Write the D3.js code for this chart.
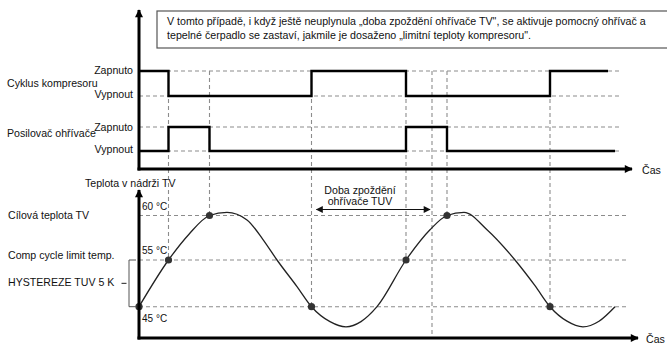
<!DOCTYPE html>
<html><head><meta charset="utf-8">
<script src="https://cdn.jsdelivr.net/npm/d3@7"></script>
<style>
body{margin:0;background:#fff;}
svg{display:block;font-family:"Liberation Sans",Arial,sans-serif;}
</style></head>
<body><svg id="c" width="667" height="345"></svg>
<script>
// ---------- data ----------
const noteLines = [
  "V tomto případě, i když ještě neuplynula „doba zpoždění ohřívače TV\", se aktivuje pomocný ohřívač a",
  "tepelné čerpadlo se zastaví, jakmile je dosaženo „limitní teploty kompresoru\"."
];
const stateLabels = ["Zapnuto", "Vypnout"];
const seriesNames = ["Cyklus kompresoru", "Posilovač ohřívače"];
// compressor state (1 = Zapnuto, 0 = Vypnout) switching times
const compTimes  = [0, 29.5, 172.5, 267, 411, 469];
const compStates = [1, 0, 1, 0, 1, 1];
const heatTimes  = [0, 29.5, 70.5, 267, 308, 476];
const heatStates = [0, 1, 0, 1, 0, 0];
// event markers
const eventTimes = [29.5, 70.5, 172.5, 267, 293, 308, 411];
const eventTemps = [55, 60, 45, 55, null, 60, 45];
// tank temperature curve
const curveTimes = [0, 29.5, 50, 70.5, 88, 108, 124, 138, 158, 172.5, 191, 207, 222, 238, 267, 291, 308, 325, 348, 376, 396, 411, 428, 444, 460, 476];
const curveTemps = [45, 55, 57.9, 60, 60.35, 59.5, 57.3, 55, 49.3, 45, 41.8, 40.7, 41.8, 45, 55, 58.4, 60, 60.35, 58.4, 55, 49.5, 45, 41.9, 40.7, 41.9, 45];
const tempTicks = [60, 55, 45];
const tempTickLabels = ["60 °C", "55 °C", "45 °C"];
const tempNames = ["Cílová teplota TV", "Comp cycle limit temp.", "HYSTEREZE TUV 5 K"];
const axisTitleTop = "Teplota v nádrži TV";
const timeLabel = "Čas";
const delayLabel = ["Doba zpoždění", "ohřívače TUV"];
const delayStart = 177.5, delayEnd = 291;

// ---------- scales ----------
const svg = d3.select("#c");
const x = d3.scaleLinear().domain([0, 500]).range([139, 639]);
const yComp = d3.scaleLinear().domain([0, 1]).range([96, 71]);
const yHeat = d3.scaleLinear().domain([0, 1]).range([151, 127]);
const yT = d3.scaleLinear().domain([45, 55, 60]).range([306.7, 260, 215.5]);
const topAxisY = 169, botAxisY = 338;
const dashCol = "#8c8c8c";
const FS = 10.6;

const defs = svg.append("defs");
defs.append("marker").attr("id","ah").attr("viewBox","0 0 10 10").attr("refX",9).attr("refY",5)
  .attr("markerWidth",10).attr("markerHeight",8).attr("markerUnits","userSpaceOnUse").attr("orient","auto")
  .append("path").attr("d","M0,0 L10,5 L0,10 Z").attr("fill","#000");
defs.append("marker").attr("id","ahs").attr("viewBox","0 0 10 10").attr("refX",9).attr("refY",5)
  .attr("markerWidth",10).attr("markerHeight",7).attr("markerUnits","userSpaceOnUse").attr("orient","auto-start-reverse")
  .append("path").attr("d","M0,0 L10,5 L0,10 Z").attr("fill","#111");

// ---------- note box ----------
svg.append("rect").attr("x",157).attr("y",11).attr("width",520).attr("height",37)
  .attr("fill","#fff").attr("stroke","#555").attr("stroke-width",1.2);
const nt = svg.selectAll("text.note").data(noteLines).join("text").attr("class","note")
  .attr("x",167).attr("y",(d,i)=>25+i*14).attr("font-size",10).attr("fill","#111").text(d=>d);
const w0 = nt.nodes()[0].getComputedTextLength();
nt.attr("font-size",10*479/w0);

// ---------- dashed guides ----------
[yComp(1), yComp(0), yHeat(1), yHeat(0)].forEach(yy=>{
  svg.append("line").attr("x1",x(0)).attr("x2",x(483)).attr("y1",yy).attr("y2",yy)
   .attr("stroke",dashCol).attr("stroke-width",1.1).attr("stroke-dasharray","4,3");
});
tempTicks.forEach(t=>{
  svg.append("line").attr("x1",x(0)).attr("x2",x(489)).attr("y1",yT(t)).attr("y2",yT(t))
   .attr("stroke",dashCol).attr("stroke-width",1.1).attr("stroke-dasharray","4,3");
});
eventTimes.forEach((t,i)=>{
  const y2 = eventTemps[i]==null ? botAxisY : yT(eventTemps[i]);
  svg.append("line").attr("x1",x(t)).attr("x2",x(t)).attr("y1",yComp(1)).attr("y2",y2)
   .attr("stroke",dashCol).attr("stroke-width",1.1).attr("stroke-dasharray","4,3");
});

// ---------- step lines ----------
const step = d3.line().curve(d3.curveStepAfter);
svg.append("path").attr("d", step(compTimes.map((t,i)=>[x(t), yComp(compStates[i])])))
  .attr("fill","none").attr("stroke","#000").attr("stroke-width",2.4);
svg.append("path").attr("d", step(heatTimes.map((t,i)=>[x(t), yHeat(heatStates[i])])))
  .attr("fill","none").attr("stroke","#000").attr("stroke-width",2.4);

// ---------- temperature curve ----------
const line = d3.line().curve(d3.curveMonotoneX);
svg.append("path").attr("d", line(curveTimes.map((t,i)=>[x(t), yT(curveTemps[i])])))
  .attr("fill","none").attr("stroke","#222").attr("stroke-width",1.3);
const dots = eventTimes.map((t,i)=>[t, eventTemps[i]]).filter(d=>d[1]!=null);
dots.unshift([0,45]);
svg.selectAll("circle.d").data(dots).join("circle").attr("class","d")
  .attr("cx",d=>x(d[0])).attr("cy",d=>yT(d[1])).attr("r",3.6).attr("fill","#333");

// ---------- axes ----------
const axW = 3;
svg.append("line").attr("x1",x(0)).attr("x2",x(0)).attr("y1",topAxisY+1.5).attr("y2",10)
  .attr("stroke","#000").attr("stroke-width",axW).attr("marker-end","url(#ah)");
svg.append("line").attr("x1",x(0)-1.5).attr("x2",632).attr("y1",topAxisY).attr("y2",topAxisY)
  .attr("stroke","#000").attr("stroke-width",axW).attr("marker-end","url(#ah)");
svg.append("line").attr("x1",x(0)).attr("x2",x(0)).attr("y1",botAxisY+1.5).attr("y2",190)
  .attr("stroke","#000").attr("stroke-width",axW).attr("marker-end","url(#ah)");
svg.append("line").attr("x1",x(0)-1.5).attr("x2",638).attr("y1",botAxisY).attr("y2",botAxisY)
  .attr("stroke","#000").attr("stroke-width",axW).attr("marker-end","url(#ah)");

// ---------- labels ----------
const lab = (t,xx,yy,anchor="start",size=FS)=>svg.append("text").attr("x",xx).attr("y",yy)
   .attr("text-anchor",anchor).attr("font-size",size).attr("fill","#111").text(t);
lab(stateLabels[0],133,yComp(1)+3,"end");
lab(stateLabels[1],133,yComp(0)+1.5,"end");
lab(stateLabels[0],133,yHeat(1)+3.5,"end");
lab(stateLabels[1],133,yHeat(0)+2,"end");
lab(seriesNames[0],7,87);
lab(seriesNames[1],7,137);
lab(timeLabel,642,174);
lab(timeLabel,646,343);
lab(axisTitleTop,85,187);
tempTicks.forEach((t,i)=>{
  const off = t===45 ? 15 : -6;
  lab(tempTickLabels[i],142,yT(t)+off,"start",10);
});
lab(tempNames[0],8,219);
lab(tempNames[1],8,259);
lab(tempNames[2],8,286);
// bracket
svg.append("path").attr("d",`M136,${yT(55)} H129 V${yT(45)} H136`).attr("fill","none").attr("stroke","#555").attr("stroke-width",1);
svg.append("line").attr("x1",121.5).attr("x2",126.5).attr("y1",(yT(55)+yT(45))/2).attr("y2",(yT(55)+yT(45))/2)
  .attr("stroke","#333").attr("stroke-width",1.1);
// delay annotation
lab(delayLabel[0],360,193.5,"middle");
lab(delayLabel[1],360,204.5,"middle");
svg.append("line").attr("x1",x(delayStart)).attr("x2",x(delayEnd)).attr("y1",209.5).attr("y2",209.5)
  .attr("stroke","#111").attr("stroke-width",1.2).attr("marker-start","url(#ahs)").attr("marker-end","url(#ahs)");
</script></body></html>
